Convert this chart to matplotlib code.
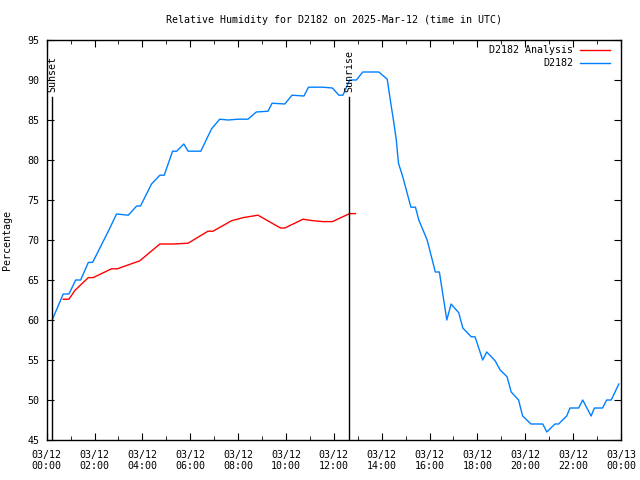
import matplotlib
matplotlib.use('Agg')
import matplotlib.pyplot as plt
from matplotlib.ticker import MultipleLocator

# hours since 03/12 00:00 UTC
obs_hours = [0.23, 0.69, 0.93, 1.21, 1.42, 1.74, 1.92, 2.60, 2.92, 3.41, 3.76, 3.92,
             4.38, 4.73, 4.91, 5.26, 5.43, 5.73, 5.91, 6.44, 6.89, 7.23, 7.58, 8.00,
             8.41, 8.76, 9.25, 9.42, 9.95, 10.25, 10.75, 10.94, 11.54, 11.94, 12.21,
             12.38, 12.66, 12.94, 13.21, 13.88, 14.23, 14.40, 14.49, 14.61, 14.70,
             14.88, 15.05, 15.22, 15.41, 15.55, 15.90, 16.24, 16.41, 16.72, 16.90,
             17.22, 17.39, 17.74, 17.90, 18.22, 18.39, 18.74, 18.95, 19.24, 19.41,
             19.72, 19.89, 20.24, 20.73, 20.90, 21.24, 21.39, 21.73, 21.87, 22.23,
             22.40, 22.75, 22.89, 23.23, 23.40, 23.59, 23.91]
obs_rh = [60.0, 63.25, 63.25, 65.0, 65.0, 67.2, 67.2, 71.25, 73.25, 73.1, 74.25, 74.25,
          77.0, 78.1, 78.1, 81.1, 81.1, 82.0, 81.1, 81.1, 83.9, 85.1, 85.0, 85.1,
          85.1, 86.0, 86.1, 87.1, 87.0, 88.1, 88.0, 89.1, 89.1, 89.0, 88.1,
          88.1, 90.0, 90.0, 91.0, 91.0, 90.1, 86.7, 85.0, 82.5, 79.6,
          77.9, 76.0, 74.1, 74.1, 72.5, 70.0, 66.0, 66.0, 60.0, 62.0,
          60.9, 59.0, 57.9, 57.9, 55.0, 56.0, 54.9, 53.75, 52.9, 51.0,
          50.0, 48.0, 47.0, 47.0, 46.0, 47.0, 47.0, 48.0, 49.0, 49.0,
          50.0, 48.0, 49.0, 49.0, 50.0, 50.0, 52.0]

ana_hours = [0.69, 0.93, 1.18, 1.74, 1.94, 2.71, 2.95, 3.89, 4.73, 5.28, 5.91, 6.74,
             6.95, 7.72, 8.21, 8.83, 9.77, 9.95, 10.71, 11.16, 11.54, 11.94, 12.66, 12.90]
ana_rh = [62.6, 62.6, 63.7, 65.3, 65.3, 66.4, 66.4, 67.4, 69.5, 69.5, 69.6, 71.1,
          71.1, 72.4, 72.8, 73.1, 71.5, 71.5, 72.6, 72.4, 72.3, 72.3, 73.3, 73.3]

sunset_h = 0.23
sunrise_h = 12.64

tick_hours = list(range(0, 25, 2))
tick_labels = ['03/12\n%02d:00' % h for h in range(0, 24, 2)] + ['03/13\n00:00']

plt.rcParams['font.family'] = 'DejaVu Sans Mono'
plt.rcParams['font.size'] = 7.2

fig = plt.figure(figsize=(6.4, 4.8), dpi=100)
ax = fig.add_axes([46.7 / 640, 40 / 480, (621 - 46.7) / 640, 400 / 480])

ax.plot(ana_hours, ana_rh, color='#ff0000', lw=1.0, label='D2182 Analysis')
ax.plot(obs_hours, obs_rh, color='#0080ff', lw=1.0, label='D2182')

# sunset / sunrise markers
for h, name in [(sunset_h, 'Sunset'), (sunrise_h, 'Sunrise')]:
    ax.plot([h, h], [45, 87.9], color='black', lw=1.0)
    ax.text(h, 88.5, name, rotation=90, ha='center', va='bottom')

ax.set_xlim(0, 24)
ax.set_ylim(45, 95)
ax.set_xticks(tick_hours)
ax.set_xticklabels(tick_labels)
ax.xaxis.set_minor_locator(MultipleLocator(1))
ax.yaxis.set_major_locator(MultipleLocator(5))
ax.tick_params(which='major', direction='in', length=5, top=True, right=True)
ax.tick_params(which='minor', direction='in', length=3, top=True, right=True)
ax.tick_params(axis='x', pad=7)
ax.tick_params(axis='y', pad=5)
for s in ax.spines.values():
    s.set_linewidth(1.0)

ax.set_ylabel('Percentage')
ax.yaxis.set_label_coords((12 - 46.7) / 574.3, 0.5)
fig.text(334 / 640, 1 - 20 / 480, 'Relative Humidity for D2182 on 2025-Mar-12 (time in UTC)',
         ha='center', va='center')

leg = ax.legend(loc='upper right', bbox_to_anchor=(1 - 7 / 574.3, 0.997),
                frameon=False, markerfirst=False, handlelength=3,
                handletextpad=0.7, borderaxespad=0, labelspacing=0.3)
for t in leg.get_texts():
    t.set_ha('right')

fig.savefig('out.png', dpi=100)
